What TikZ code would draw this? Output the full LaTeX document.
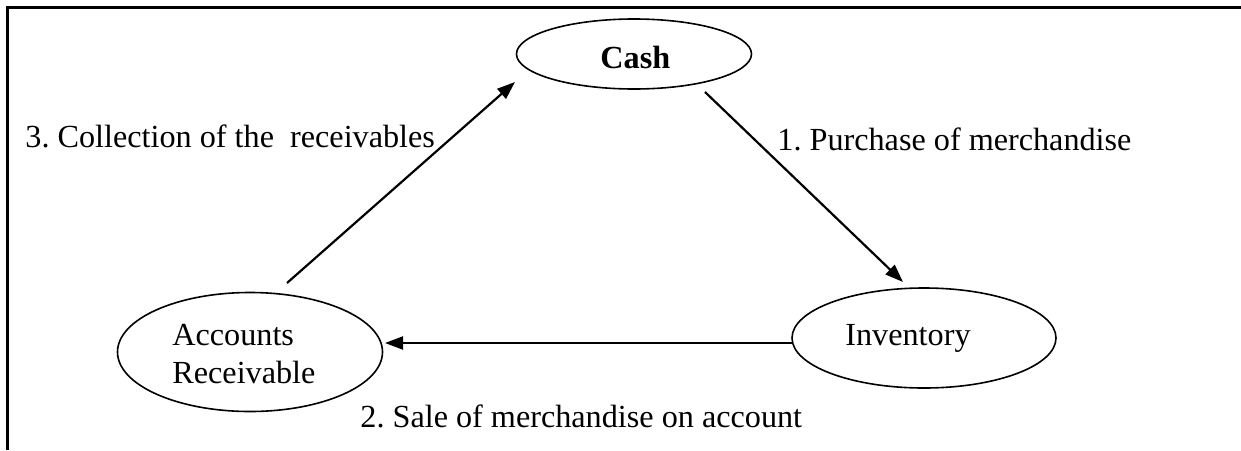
\documentclass[tikz,border=0pt]{standalone}
\usepackage{fontspec}
\setmainfont{Liberation Serif}
\usetikzlibrary{shapes.geometric,arrows.meta}
\frenchspacing
\tikzset{
  ell/.style={draw, ellipse, line width=0.8pt, inner sep=0pt},
  txt/.style={anchor=base west, inner sep=0pt, font=\fontsize{16.1}{19}\selectfont},
  arr/.style={line width=1.1pt, -{Triangle[length=9pt,width=6.5pt]}},
  frame/.style={line width=1.5pt}
}
\begin{document}
\begin{tikzpicture}[x=0.5pt,y=-0.5pt]
\useasboundingbox (0,0) rectangle (1241,450);
\draw[frame] (7.7,450) -- (7.7,7) -- (1241,7);
% ellipses
\node[ell, minimum width=117.5pt, minimum height=35pt] (cash) at (634,54) {};
\node[ell, minimum width=132.5pt, minimum height=59.5pt] (ar) at (250,352) {};
\node[ell, minimum width=132pt, minimum height=50pt] (inv) at (924,338) {};
% texts in ellipses
\node[txt, font=\fontsize{16.1}{19}\selectfont\bfseries] (casht) at (600,68) {Cash};
\node[txt] (art1) at (172,345) {Accounts};
\node[txt] (art2) at (172,383) {Receivable};
\node[txt] (invt) at (845,345) {Inventory};
% labels
\node[txt] (l3) at (25,147) {3. Collection of the\ \ receivables};
\node[txt] (l1) at (777,150) {1. Purchase of merchandise};
\node[txt] (l2) at (360,427) {2. Sale of merchandise on account};
% connector ends
\coordinate (c1s) at (705,92);
\coordinate (c1e) at (903,282);
\coordinate (c2s) at (792,343);
\coordinate (c2e) at (385,343);
\coordinate (c3s) at (287,283);
\coordinate (c3e) at (515,82);
\draw[arr] (c1s) -- (c1e);
\draw[arr] (c2s) -- (c2e);
\draw[arr] (c3s) -- (c3e);
\end{tikzpicture}
\end{document}
